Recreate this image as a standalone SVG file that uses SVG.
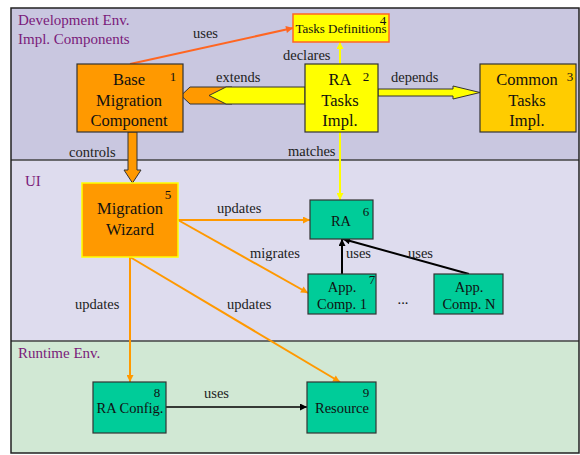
<svg xmlns="http://www.w3.org/2000/svg" width="580" height="455" viewBox="0 0 580 455">
<style>
text{font-family:"Liberation Serif","Times New Roman",serif;fill:#111}
.sec{font-size:15px;fill:#7a1a7a}
.nt{font-size:16.5px;text-anchor:middle}
.gt{font-size:14.5px;text-anchor:middle}
.num{font-size:13px;text-anchor:middle}
.lbl{font-size:14.5px;fill:#222}
.box{stroke:#333;stroke-width:1.2}
.fat{stroke:#333;stroke-width:1}
.or{fill:none;stroke:#ff9900;stroke-width:2}
.bk{fill:none;stroke:#000;stroke-width:2}
</style>
<defs>
<marker id="aO" viewBox="0 0 10 10" refX="10" refY="5" markerUnits="userSpaceOnUse" markerWidth="9" markerHeight="7" orient="auto"><path d="M0,0L10,5L0,10z" fill="#ff9900"/></marker>
<marker id="aR" viewBox="0 0 10 10" refX="10" refY="5" markerUnits="userSpaceOnUse" markerWidth="9" markerHeight="7" orient="auto"><path d="M0,0L10,5L0,10z" fill="#ff6622"/></marker>
<marker id="aY" viewBox="0 0 10 10" refX="10" refY="5" markerUnits="userSpaceOnUse" markerWidth="9" markerHeight="7" orient="auto"><path d="M0,0L10,5L0,10z" fill="#ffff00"/></marker>
<marker id="aB" viewBox="0 0 10 10" refX="10" refY="5" markerUnits="userSpaceOnUse" markerWidth="9" markerHeight="7" orient="auto"><path d="M0,0L10,5L0,10z" fill="#000"/></marker>
</defs>
<rect width="580" height="455" fill="#fff"/>
<g id="sections">
<rect x="11" y="8" width="568" height="152" fill="#c9c7e0"/>
<rect x="11" y="160" width="568" height="181" fill="#dedcee"/>
<rect x="11" y="341" width="568" height="112" fill="#d1e8d4"/>
<path d="M11,160H579M11,341H579" stroke="#444" stroke-width="1.5"/>
<rect x="11" y="8" width="568" height="445" fill="none" stroke="#222" stroke-width="1.5"/>
<text class="sec" x="18" y="25">Development Env.</text>
<text class="sec" x="18" y="44">Impl. Components</text>
<text class="sec" x="25" y="186">UI</text>
<text class="sec" x="18" y="358">Runtime Env.</text>
</g>
<g id="connectors">
<path d="M130,64L293,28" fill="none" stroke="#ff6622" stroke-width="2" marker-end="url(#aR)"/>
<path d="M340,64L340,42" fill="none" stroke="#ffff00" stroke-width="2" marker-end="url(#aY)"/>
<path d="M340,132L340,200" fill="none" stroke="#ffff00" stroke-width="2" marker-end="url(#aY)"/>
<polygon class="fat" points="181,95.5 190,87 232,87 232,104 190,104" fill="#ff9900"/>
<polygon class="fat" points="209,95.5 226,87 305,87 305,104 226,104" fill="#ffff00"/>
<polygon class="fat" points="378,89 453,89 453,86 480,92.5 453,99 453,96 378,96" fill="#ffff00"/>
<polygon class="fat" points="128,132 137,132 137,170 141,170 132.5,183 124,170 128,170" fill="#ff9900"/>
<path class="or" d="M178,220L310,220" marker-end="url(#aO)"/>
<path class="or" d="M178,220L308,293" marker-end="url(#aO)"/>
<path class="or" d="M130,257L130,382" marker-end="url(#aO)"/>
<path class="or" d="M130,257L340,382" marker-end="url(#aO)"/>
<path class="bk" d="M342,274L342,239" marker-end="url(#aB)"/>
<path class="bk" d="M469,274L343,239" marker-end="url(#aB)"/>
<path d="M166,407L307,407" fill="none" stroke="#000" stroke-width="1.5" marker-end="url(#aB)"/>
<text class="lbl" x="193" y="38">uses</text>
<text class="lbl" x="283" y="60">declares</text>
<text class="lbl" x="216" y="82">extends</text>
<text class="lbl" x="391" y="82">depends</text>
<text class="lbl" x="69" y="157">controls</text>
<text class="lbl" x="288" y="156">matches</text>
<text class="lbl" x="217" y="213">updates</text>
<text class="lbl" x="250" y="258">migrates</text>
<text class="lbl" x="346" y="258">uses</text>
<text class="lbl" x="408" y="258">uses</text>
<text class="lbl" x="75" y="309">updates</text>
<text class="lbl" x="227" y="309">updates</text>
<text class="lbl" x="204" y="398">uses</text>
</g>
<g id="n1">
<rect class="box" x="77" y="64" width="106" height="68" fill="#ff9900"/>
<text class="nt" x="129" y="85">Base</text>
<text class="nt" x="129" y="106">Migration</text>
<text class="nt" x="129" y="126">Component</text>
<text class="num" x="173" y="81">1</text>
</g>
<g id="n2">
<rect class="box" x="305" y="64" width="73" height="68" fill="#ffff00"/>
<text class="nt" x="340" y="85">RA</text>
<text class="nt" x="340" y="106">Tasks</text>
<text class="nt" x="340" y="126">Impl.</text>
<text class="num" x="366" y="81">2</text>
</g>
<g id="n3">
<rect class="box" x="480" y="64" width="96" height="68" fill="#ffcc00"/>
<text class="nt" x="527" y="85">Common</text>
<text class="nt" x="527" y="106">Tasks</text>
<text class="nt" x="527" y="126">Impl.</text>
<text class="num" x="570" y="81">3</text>
</g>
<g id="n4">
<rect x="293" y="14" width="96" height="28" fill="#ffff00" stroke="#ff6622" stroke-width="1.5"/>
<text x="341" y="33" style="font-size:13px;text-anchor:middle">Tasks Definitions</text>
<text class="num" x="383" y="25">4</text>
</g>
<g id="n5">
<rect x="82" y="183" width="96" height="74" fill="#ff9900" stroke="#ffff00" stroke-width="1.5"/>
<text class="nt" x="130" y="214">Migration</text>
<text class="nt" x="130" y="235">Wizard</text>
<text class="num" x="168" y="199">5</text>
</g>
<g id="n6">
<rect class="box" x="310" y="200" width="63" height="39" fill="#00cc99"/>
<text class="gt" x="341" y="226">RA</text>
<text class="num" x="366" y="216">6</text>
</g>
<g id="n7">
<rect class="box" x="308" y="274" width="68" height="40" fill="#00cc99"/>
<text class="gt" x="342" y="292">App.</text>
<text class="gt" x="342" y="309">Comp. 1</text>
<text class="num" x="372" y="284">7</text>
</g>
<text x="403" y="304" style="font-size:14.5px;text-anchor:middle">...</text>
<g id="nN">
<rect class="box" x="434" y="274" width="69" height="40" fill="#00cc99"/>
<text class="gt" x="469" y="292">App.</text>
<text class="gt" x="469" y="309">Comp. N</text>
</g>
<g id="n8">
<rect class="box" x="93" y="382" width="73" height="51" fill="#00cc99"/>
<text class="gt" x="130" y="413">RA Config.</text>
<text class="num" x="157" y="397">8</text>
</g>
<g id="n9">
<rect class="box" x="307" y="382" width="69" height="51" fill="#00cc99"/>
<text class="gt" x="342" y="413">Resource</text>
<text class="num" x="366" y="397">9</text>
</g>
</svg>
